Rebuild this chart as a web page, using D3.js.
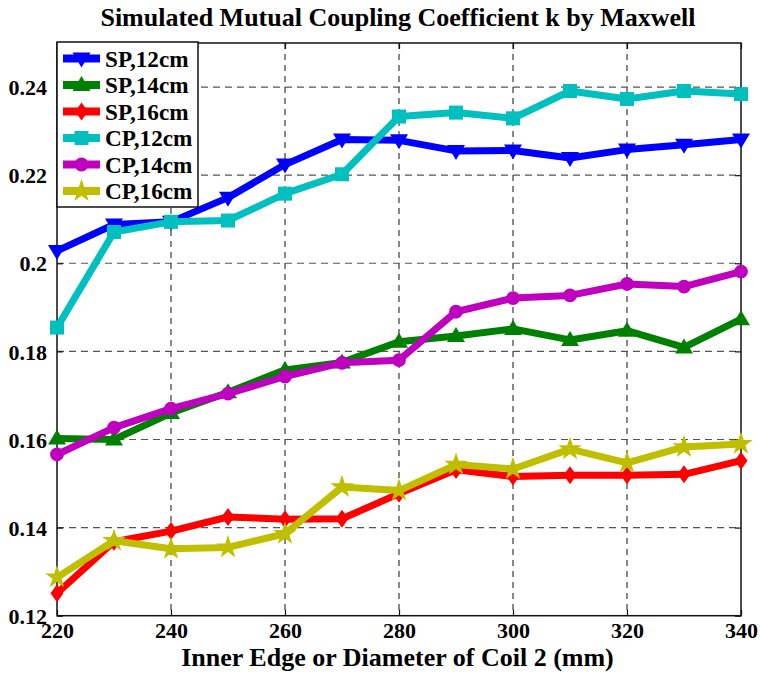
<!DOCTYPE html>
<html><head><meta charset="utf-8">
<script src="https://cdn.jsdelivr.net/npm/d3@7"></script>
<style>body{margin:0;background:#fff}svg{display:block}text{font-family:"Liberation Serif","Times New Roman",serif;font-weight:bold}</style>
</head><body><svg id="c" width="760" height="673"></svg>
<script>
const xValues = [220,230,240,250,260,270,280,290,300,310,320,330,340];
const sp12 = [0.2028,0.2088,0.2094,0.2149,0.2224,0.2281,0.2279,0.2255,0.2256,0.2239,0.2258,0.2269,0.2281];
const sp14 = [0.1602,0.1600,0.1660,0.1707,0.1758,0.1775,0.1822,0.1835,0.1851,0.1826,0.1847,0.1809,0.1873];
const sp16 = [0.1251,0.1368,0.1392,0.1424,0.1419,0.1420,0.1477,0.1531,0.1516,0.1519,0.1519,0.1521,0.1552];
const cp12 = [0.1854,0.2071,0.2094,0.2097,0.2158,0.2202,0.2333,0.2342,0.2329,0.2391,0.2373,0.2391,0.2384];
const cp14 = [0.1566,0.1627,0.1670,0.1704,0.1743,0.1774,0.1780,0.1890,0.1921,0.1927,0.1953,0.1947,0.1981];
const cp16 = [0.1287,0.1370,0.1352,0.1355,0.1386,0.1492,0.1484,0.1543,0.1533,0.1578,0.1547,0.1583,0.1590];
const seriesNames = ["SP,12cm","SP,14cm","SP,16cm","CP,12cm","CP,14cm","CP,16cm"];
const seriesColors = ["#0000ff","#008000","#ff0000","#00bfbf","#bf00bf","#bfbf00"];
const seriesMarkers = ["tridown","triup","diamond","square","circle","star"];
const xTicks = [220,240,260,280,300,320,340];
const yTicks = [0.12,0.14,0.16,0.18,0.2,0.22,0.24];
const yTickLabels = ["0.12","0.14","0.16","0.18","0.2","0.22","0.24"];
const titleText = "Simulated Mutual Coupling Coefficient k by Maxwell";
const xLabelText = "Inner Edge or Diameter of Coil 2 (mm)";

const allSeries = [sp12,sp14,sp16,cp12,cp14,cp16];
const svg = d3.select("#c");
const L=57,R=741,T=43,B=615.7;
const x = d3.scaleLinear().domain([220,340]).range([L,R]);
const y = d3.scaleLinear().domain([0.12,0.25]).range([B,T]);

// grid
const g = svg.append("g");
g.selectAll(".gx").data(xTicks.slice(1,-1)).join("line")
 .attr("x1",d=>x(d)).attr("x2",d=>x(d)).attr("y1",T).attr("y2",B)
 .attr("stroke","#111").attr("stroke-width",1).attr("stroke-dasharray","6,5");
g.selectAll(".gy").data(yTicks.slice(1)).join("line")
 .attr("x1",L).attr("x2",R).attr("y1",d=>y(d)).attr("y2",d=>y(d))
 .attr("stroke","#555").attr("stroke-width",1.2).attr("stroke-dasharray","7,5");

// box
svg.append("rect").attr("x",L).attr("y",T).attr("width",R-L).attr("height",B-T)
 .attr("fill","none").attr("stroke","#111").attr("stroke-width",1.5);

// axes (ticks inward)
const xa = svg.append("g").attr("transform",`translate(0,${B})`)
 .call(d3.axisBottom(x).tickValues(xTicks).tickSize(-6).tickPadding(13).tickFormat(d3.format("d")));
const xt = svg.append("g").attr("transform",`translate(0,${T})`)
 .call(d3.axisTop(x).tickValues(xTicks).tickSize(-6).tickFormat(""));
const ya = svg.append("g").attr("transform",`translate(${L},0)`)
 .call(d3.axisLeft(y).tickValues(yTicks).tickSize(-6).tickPadding(10).tickFormat((d,i)=>yTickLabels[i]));
const yr = svg.append("g").attr("transform",`translate(${R},0)`)
 .call(d3.axisRight(y).tickValues(yTicks).tickSize(-6).tickFormat(""));
[xa,xt,ya,yr].forEach(a=>{a.select(".domain").remove();a.selectAll(".tick line").attr("stroke","#111").attr("stroke-width",1.2);});
svg.selectAll(".tick text").attr("font-size",22).attr("fill","#000");
xa.selectAll(".tick text").attr("dy","0.42em");
ya.selectAll(".tick text").attr("dy","0.35em");

// marker shapes
function markerPath(type){
  switch(type){
    case "tridown": return "M-9,-6L9,-6L0,9Z";
    case "triup": return "M-9,6L9,6L0,-9Z";
    case "diamond": return "M0,-9L6.5,0L0,9L-6.5,0Z";
    case "square": return "M-7,-7L7,-7L7,7L-7,7Z";
    case "circle": return d3.symbol(d3.symbolCircle,150)();
    case "star": return d3.symbol(d3.symbolStar,170)();
  }
}

const line = d3.line().x((d,i)=>x(xValues[i])).y(d=>y(d));
allSeries.forEach((s,k)=>{
  const sg = svg.append("g");
  sg.append("path").datum(s).attr("d",line).attr("fill","none")
    .attr("stroke",seriesColors[k]).attr("stroke-width",7).attr("stroke-linejoin","round");
  sg.selectAll("path.m").data(s).join("path").attr("class","m")
    .attr("d",markerPath(seriesMarkers[k]))
    .attr("transform",(d,i)=>`translate(${x(xValues[i])},${y(d)})`)
    .attr("fill",seriesColors[k]);
});

// legend
const lg = svg.append("g");
lg.append("rect").attr("x",57).attr("y",42).attr("width",141).attr("height",165)
  .attr("fill","#fff").attr("stroke","#111").attr("stroke-width",1.5);
seriesNames.forEach((n,k)=>{
  const cy = 58.5 + k*26.5;
  lg.append("line").attr("x1",63).attr("x2",100).attr("y1",cy).attr("y2",cy)
    .attr("stroke",seriesColors[k]).attr("stroke-width",8);
  lg.append("path").attr("d",markerPath(seriesMarkers[k])).attr("transform",`translate(81.5,${cy})`).attr("fill",seriesColors[k]);
  lg.append("text").attr("x",105).attr("y",cy).attr("dy","0.35em").attr("font-size",23.2).text(n);
});

// title and x label
svg.append("text").attr("x",398).attr("y",26).attr("text-anchor","middle").attr("font-size",26).text(titleText);
svg.append("text").attr("x",397.5).attr("y",666).attr("text-anchor","middle").attr("font-size",26).text(xLabelText);
</script></body></html>
